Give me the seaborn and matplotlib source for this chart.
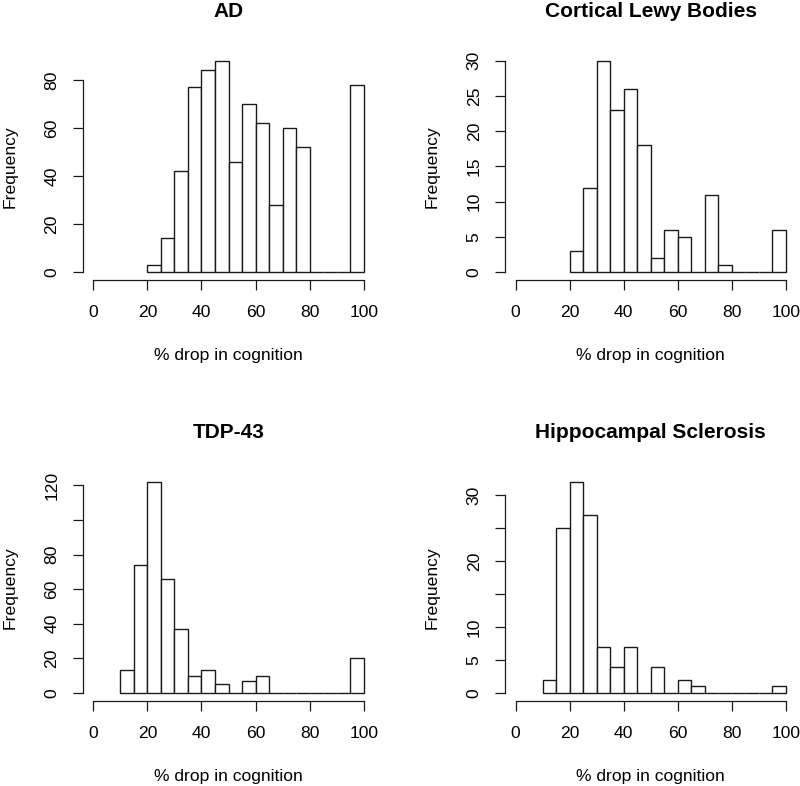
import numpy as np
import pandas as pd
import matplotlib.pyplot as plt
import seaborn as sns

# Histogram counts (bins of width 5)
titles = ['AD', 'Cortical Lewy Bodies', 'TDP-43', 'Hippocampal Sclerosis']
bin_starts = [20, 20, 10, 10]

ad_counts = [3, 14, 42, 77, 84, 88, 46, 70, 62, 28, 60, 52, 0, 0, 0, 78]
lewy_counts = [3, 12, 30, 23, 26, 18, 2, 6, 5, 0, 11, 1, 0, 0, 0, 6]
tdp_counts = [13, 74, 122, 66, 37, 10, 13, 5, 0, 7, 10, 0, 0, 0, 0, 0, 0, 20]
hs_counts = [2, 25, 32, 27, 7, 4, 7, 0, 4, 0, 2, 1, 0, 0, 0, 0, 0, 1]

ad_yticks = [0, 20, 40, 60, 80]
ad_ylabels = ['0', '20', '40', '60', '80']
lewy_yticks = [0, 5, 10, 15, 20, 25, 30]
lewy_ylabels = ['0', '5', '10', '15', '20', '25', '30']
tdp_yticks = [0, 20, 40, 60, 80, 100, 120]
tdp_ylabels = ['0', '20', '40', '60', '80', '', '120']
hs_yticks = [0, 5, 10, 15, 20, 25, 30]
hs_ylabels = ['0', '5', '10', '', '20', '', '30']

xticks = [0, 20, 40, 60, 80, 100]

sns.set_style('ticks')
plt.rcParams['font.family'] = ['Liberation Sans', 'DejaVu Sans']
plt.rcParams['text.color'] = 'black'
plt.rcParams['axes.labelcolor'] = 'black'
plt.rcParams['xtick.color'] = 'black'
plt.rcParams['ytick.color'] = 'black'

fig = plt.figure(figsize=(8, 7.86), dpi=100)
W, H = 800, 786
aw, ah = 292, 228
positions = [(82.5, 280.4), (504.7, 280.4), (82.5, 701.4), (504.7, 701.4)]
all_counts = [ad_counts, lewy_counts, tdp_counts, hs_counts]
all_yticks = [ad_yticks, lewy_yticks, tdp_yticks, hs_yticks]
all_ylabels = [ad_ylabels, lewy_ylabels, tdp_ylabels, hs_ylabels]

ink = '#1a1a1a'
fs = 12.6

for i in range(4):
    left, bottom = positions[i]
    ax = fig.add_axes([left / W, 1 - bottom / H, aw / W, ah / H])
    counts = all_counts[i]
    edges = list(range(bin_starts[i], 101, 5))
    df = pd.DataFrame({'drop': [e + 2.5 for e in edges[:-1]], 'n': counts})
    sns.histplot(data=df, x='drop', weights='n', bins=edges, ax=ax, color='white',
                 edgecolor=ink, linewidth=1.0, alpha=1)
    ymax = max(counts)
    ax.set_xlim(-4, 104)
    ax.set_ylim(-0.04 * ymax, 1.04 * ymax)

    ax.set_xticks(xticks)
    ax.set_xticklabels([str(t) for t in xticks], fontsize=fs)
    ax.set_yticks(all_yticks[i])
    ax.set_yticklabels(all_ylabels[i], fontsize=fs, rotation=90, va='center')
    ax.tick_params(axis='x', length=7.5, width=0.9, color=ink, labelcolor='black', pad=10)
    ax.tick_params(axis='y', length=7.5, width=0.9, color=ink, labelcolor='black', pad=9)

    sns.despine(ax=ax)
    ax.spines['left'].set_bounds(0, all_yticks[i][-1])
    ax.spines['bottom'].set_bounds(0, 100)
    for s in ['left', 'bottom']:
        ax.spines[s].set_color(ink)
        ax.spines[s].set_linewidth(0.9)

    ax.set_xlabel('% drop in cognition', fontsize=fs, va='center', color='black')
    ax.xaxis.set_label_coords(0.5, -75 / ah)
    ax.set_ylabel('Frequency', fontsize=fs, va='center', color='black')
    ax.yaxis.set_label_coords(-72.5 / aw, 0.5)
    ax.set_title(titles[i], fontsize=15, fontweight='bold', y=1 + 41 / ah,
                 va='center', pad=0, color='black')

fig.savefig('out.png', dpi=100, facecolor='white')
